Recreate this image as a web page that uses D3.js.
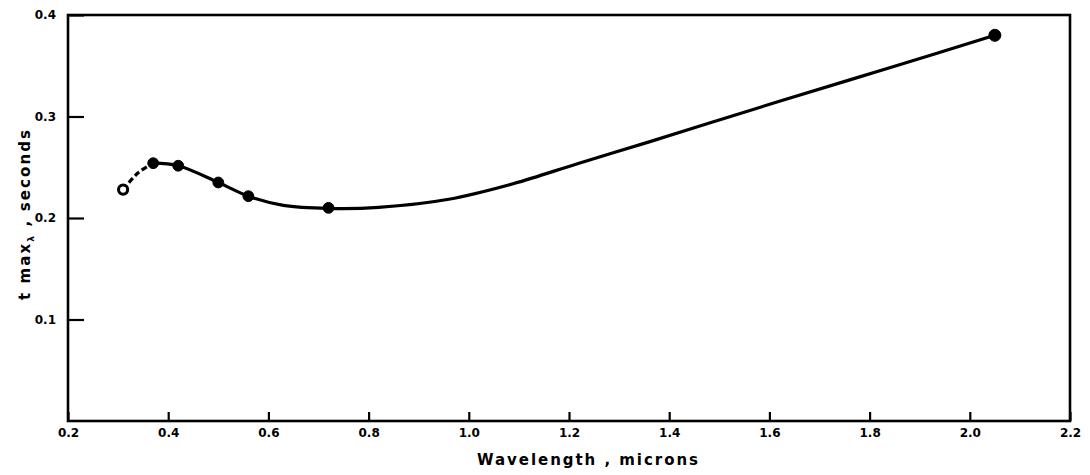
<!DOCTYPE html>
<html>
<head>
<meta charset="utf-8">
<script src="https://cdn.jsdelivr.net/npm/d3@7"></script>
<style>
  html, body { margin: 0; padding: 0; background: #fff; }
  svg { display: block; }
  text { font-family: "DejaVu Sans", Arial, sans-serif; font-weight: bold; fill: #000; }
</style>
</head>
<body>
<svg id="chart" width="1090" height="475"></svg>
<script>
// Measured points: wavelength (microns) and time of maximum response (seconds)
const wavelength = [0.31, 0.37, 0.42, 0.50, 0.56, 0.72, 2.05];
const tmax = [0.228, 0.254, 0.2515, 0.235, 0.2215, 0.210, 0.380];

// Hand-drawn smooth curve through the measurements
const curveWavelength = [0.31, 0.34, 0.37, 0.42, 0.50, 0.56, 0.63, 0.72, 0.82, 0.96, 1.09, 1.22, 1.36, 1.49, 1.62, 1.84, 2.05];
const curveTmax = [0.228, 0.2445, 0.254, 0.2515, 0.235, 0.2215, 0.2125, 0.2095, 0.2105, 0.2185, 0.234, 0.254, 0.275, 0.295, 0.315, 0.348, 0.380];

// Axis ticks
const xTicks = [0.2, 0.4, 0.6, 0.8, 1.0, 1.2, 1.4, 1.6, 1.8, 2.0, 2.2];
const yTicks = [0.1, 0.2, 0.3, 0.4];

const svg = d3.select("#chart");
const plotLeft = 68, plotRight = 1070, plotTop = 15, plotBottom = 421;

const x = d3.scaleLinear().domain([0.2, 2.2]).range([plotLeft, plotRight]);
const y = d3.scaleLinear().domain([0, 0.4]).range([plotBottom, plotTop]);

// Frame
svg.append("rect")
  .attr("x", plotLeft).attr("y", plotTop)
  .attr("width", plotRight - plotLeft).attr("height", plotBottom - plotTop)
  .attr("fill", "none").attr("stroke", "#000").attr("stroke-width", 2.6);

// X axis: ticks point up into the plot
const xAxis = svg.append("g")
  .attr("transform", `translate(0,${plotBottom})`)
  .call(d3.axisBottom(x).tickValues(xTicks).tickFormat(d3.format(".1f"))
    .tickSizeInner(-9).tickSizeOuter(0).tickPadding(7));
xAxis.select(".domain").remove();
xAxis.selectAll(".tick line").attr("stroke", "#000").attr("stroke-width", 2.2);
xAxis.selectAll(".tick text")
  .style("font-size", "12px").style("font-weight", "bold").style("font-family", "DejaVu Sans");

// Y axis: ticks point right into the plot
const yAxis = svg.append("g")
  .attr("transform", `translate(${plotLeft},0)`)
  .call(d3.axisLeft(y).tickValues(yTicks).tickFormat(d3.format(".1f"))
    .tickSizeInner(-16).tickSizeOuter(0).tickPadding(12));
yAxis.select(".domain").remove();
yAxis.selectAll(".tick line").attr("stroke", "#000").attr("stroke-width", 2.2);
yAxis.selectAll(".tick text")
  .style("font-size", "12px").style("font-weight", "bold").style("font-family", "DejaVu Sans");

// Curve: the first stretch is dashed, the rest solid
const curvePts = curveWavelength.map((w, i) => [w, curveTmax[i]]);
const line = d3.line()
  .x(d => x(d[0])).y(d => y(d[1]))
  .curve(d3.curveCatmullRom.alpha(0.5));

const splitAt = curveWavelength.indexOf(0.37);
svg.append("path")
  .attr("d", line(curvePts.slice(0, splitAt + 1)))
  .attr("fill", "none").attr("stroke", "#000").attr("stroke-width", 3.2)
  .attr("stroke-dasharray", "6,3");
svg.append("path")
  .attr("d", line(curvePts.slice(splitAt)))
  .attr("fill", "none").attr("stroke", "#000").attr("stroke-width", 3.2)
  .attr("stroke-linejoin", "round");

// Points: first one drawn open, others filled
svg.append("g").selectAll("circle")
  .data(wavelength.map((w, i) => ({ w, t: tmax[i], i })))
  .join("circle")
  .attr("cx", d => x(d.w))
  .attr("cy", d => y(d.t))
  .attr("r", d => d.i === 0 ? 4.6 : (d.i === wavelength.length - 1 ? 6 : 5.4))
  .attr("fill", d => d.i === 0 ? "#fff" : "#000")
  .attr("stroke", "#000")
  .attr("stroke-width", d => d.i === 0 ? 3 : 1);

// Axis titles
svg.append("text")
  .attr("x", (477 + 698) / 2).attr("y", 465)
  .attr("text-anchor", "middle")
  .attr("font-size", 15)
  .attr("textLength", 221).attr("lengthAdjust", "spacing")
  .text("Wavelength , microns");

const yt = svg.append("text")
  .attr("transform", "translate(30,215) rotate(-90)")
  .attr("text-anchor", "middle")
  .attr("font-size", 15)
  .attr("textLength", 170).attr("lengthAdjust", "spacing");
yt.append("tspan").text("t max");
yt.append("tspan").attr("font-size", 9).attr("dy", 4).text("λ");
yt.append("tspan").attr("dy", -4).text(" , seconds");
</script>
</body>
</html>
